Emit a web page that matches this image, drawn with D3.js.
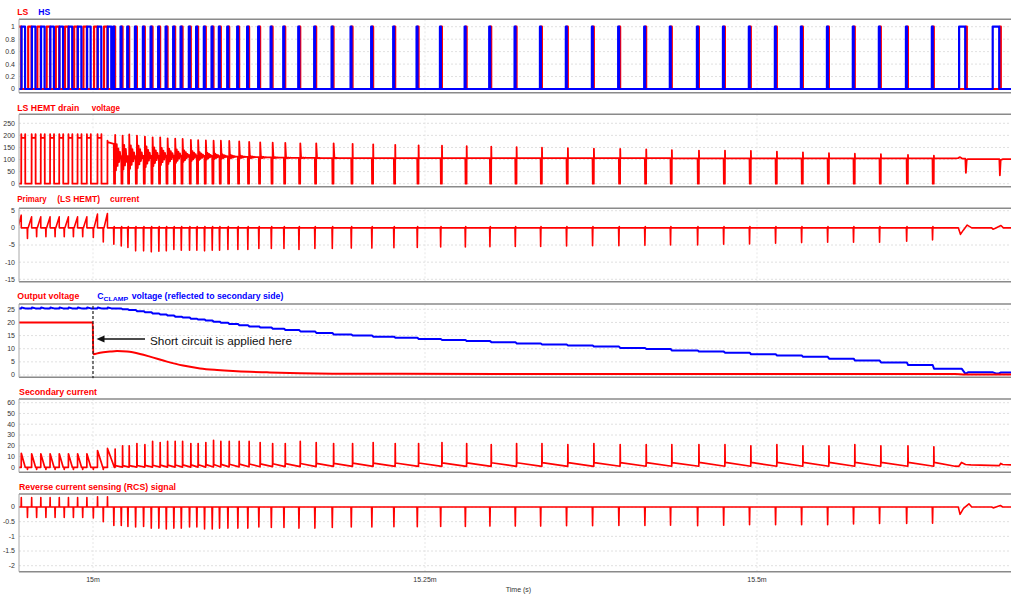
<!DOCTYPE html>
<html>
<head>
<meta charset="utf-8">
<script src="https://cdn.jsdelivr.net/npm/d3@7"></script>
<style>
  body { margin: 0; background: #fff; }
  text { font-family: "Liberation Sans", Arial, Helvetica, sans-serif; }
</style>
</head>
<body>
<svg id="chart" width="1012" height="594"></svg>
<script>
// ---------------------------------------------------------------
// Active-clamp flyback: short circuit applied to the output at 15 ms.
// All event times are in microseconds after t = 15.000 ms.
// ---------------------------------------------------------------

// visible time window (µs after 15 ms)
const windowUs = [-55.72, 691.27];

// x-axis ticks (ms)
const timeTicks = [15, 15.25, 15.5];

// y-axis ticks of each trace
const gateTicks = [0, 0.2, 0.4, 0.6, 0.8, 1];
const drainTicks = [0, 50, 100, 150, 200, 250];
const primaryTicks = [5, 0, -5, -10, -15];
const voutTicks = [0, 5, 10, 15, 20, 25];
const secondaryTicks = [0, 10, 20, 30, 40, 50, 60];
const rcsTicks = [0, -0.5, -1, -1.5, -2];

// --- continuous-mode switching cycles (LS turn-on instants) ---
const ccmStartUs = [-56.6, -48.8, -41.9, -34.9, -28.0, -21.1, -14.2, -7.2, 0.8, 8.3];
const ccmPrimPeak = [3.7, 3.2, 3.2, 3.2, 3.2, 3.2, 3.2, 3.2, 4.0, 4.2];
const ccmPrimDip = [0, -3.1, -2.6, -2.6, -2.6, -2.6, -2.6, -2.6, -2.8, -4.1];
const ccmDrainOver = [205, 205, 205, 205, 205, 205, 205, 205, 205, 178];
const ccmDrainHigh = [190, 190, 190, 190, 190, 190, 190, 190, 190, 172];
const ccmDrainEnd = [190, 190, 190, 190, 190, 190, 190, 190, 190, 165];
const ccmSecPeak = [13, 12.5, 12.5, 12.5, 12.5, 12.5, 12.5, 12.5, 15.5, 17.5];
const ccmSecFallUs = [3.0, 3.0, 3.0, 3.0, 3.0, 3.0, 3.0, 3.0, 4.0, 5.2];
const ccmSecDip = [0, -2, -2, -2, -2, -2, -2, -2, -2, -2];
const ccmRcsPos = [0.32, 0.32, 0.32, 0.32, 0.32, 0.32, 0.32, 0.32, 0.35, 0.35];
const ccmRcsNeg = [0, -0.36, -0.36, -0.36, -0.36, -0.36, -0.36, -0.36, -0.37, -0.5];
const clampRipple = [25.35, 25.7];

// switching timings (µs)
const lsOnUs = 2.56, hsStartUs = 2.79, hsEndUs = 5.45, drainHighUs = 3.0;

// --- burst pulses after the short (LS turn-on instants) ---
const pulseUs = [16.0, 21.6, 26.6, 32.4, 38.4, 44.2, 49.9, 55.5, 61.2, 66.8, 73.0, 78.5,
  84.3, 90.1, 95.6, 101.9, 109.4, 116.9, 125.2, 134.6, 144.1, 155.4, 167.4, 180.5,
  194.8, 210.3, 226.9, 244.5, 262.1, 280.7, 299.2, 318.3, 337.4, 356.9, 376.5, 396.3,
  415.9, 435.2, 455.6, 475.2, 494.7, 514.3, 533.9, 553.5, 573.0, 592.6, 613.0, 632.5];
const drainPeak = [202, 199, 204, 199, 195, 192, 192, 188, 186, 185, 181, 180,
  179, 178, 178, 177, 175, 173, 171, 170, 169, 167, 167, 167,
  165, 163, 161, 159, 157, 155, 153, 151, 149, 147, 145, 144,
  142, 139, 137, 137, 136, 133, 130, 126, 124, 122, 119, 116];
const drainLevel = [114, 114, 114, 115, 115, 115, 116, 116, 116, 116, 116, 115,
  115, 114, 113, 112, 111, 110, 109, 108, 107, 107, 106, 106,
  106, 106, 106, 106, 106, 106, 106, 106, 106, 106, 106, 106,
  106, 105, 105, 105, 105, 105, 105, 105, 105, 105, 105, 105];
const ringAmp = [58, 55, 52, 50, 46, 42, 38, 34, 30, 26, 22, 18,
  15, 12, 10, 8, 6, 5, 4, 3, 2, 2, 1, 1,
  0, 0, 0, 0, 0, 0, 0, 0, 0, 0, 0, 0,
  0, 0, 0, 0, 0, 0, 0, 0, 0, 0, 0, 0];
const ringShape = [-1, 0.85, -0.7, 0.55, -0.42, 0.3, -0.2, 0.12];
const ringStepUs = 0.6;
const primDip = [-4.8, -5.3, -5.7, -6.7, -6.7, -7.0, -6.8, -6.7, -6.3, -6.5, -6.5, -6.5,
  -6.7, -6.5, -6.5, -6.3, -6.3, -6.3, -6.0, -6.0, -6.0, -6.3, -6.0, -6.0,
  -5.9, -5.9, -5.8, -5.7, -5.6, -5.6, -5.5, -5.4, -5.4, -5.3, -5.2, -5.2,
  -5.1, -5.0, -5.0, -4.8, -4.7, -4.5, -4.3, -4.2, -4.2, -4.2, -3.9, -3.5];
const primHook = 0.4;
const secPeak = [17, 20, 20, 22, 21, 24, 23, 24, 24, 24, 22, 22,
  23, 25, 24, 24, 24, 24, 23, 22, 22, 24, 23, 22,
  22, 23, 22, 22, 23, 22, 21, 22, 22, 21, 22, 21,
  21, 21, 21, 21, 20, 21, 20, 20, 21, 20, 20, 19];
const secAfter = [1.5, 1.6, 1.6, 1.7, 1.8, 1.9, 2.0, 2.0, 2.1, 2.2, 2.3, 2.4,
  2.5, 2.6, 2.7, 2.8, 3.0, 3.1, 3.2, 3.3, 3.4, 3.5, 3.6, 3.7,
  3.8, 3.9, 4.0, 4.0, 4.1, 4.1, 4.2, 4.2, 4.3, 4.3, 4.3, 4.4,
  4.4, 4.4, 4.5, 4.5, 4.5, 4.5, 4.5, 4.5, 4.5, 4.5, 4.5, 4.5];
const secEnd = [0.2, 0.2, 0.2, 0.2, 0.2, 0.2, 0.2, 0.2, 0.2, 0.2, 0.2, 0.2,
  0.3, 0.3, 0.4, 0.4, 0.5, 0.5, 0.6, 0.6, 0.7, 0.7, 0.8, 0.8,
  0.9, 0.9, 0.9, 0.9, 0.9, 0.9, 0.9, 0.9, 0.9, 0.9, 1.0, 1.0,
  1.0, 1.0, 1.0, 1.0, 1.0, 1.0, 1.0, 1.0, 1.0, 1.0, 1.0, 1.0];
const rcsDip = [-0.63, -0.63, -0.66, -0.68, -0.66, -0.72, -0.72, -0.75, -0.72, -0.72, -0.68, -0.68,
  -0.75, -0.75, -0.72, -0.72, -0.72, -0.72, -0.68, -0.70, -0.70, -0.72, -0.72, -0.70,
  -0.68, -0.68, -0.67, -0.67, -0.66, -0.66, -0.65, -0.65, -0.65, -0.64, -0.64, -0.63,
  -0.63, -0.62, -0.64, -0.62, -0.60, -0.60, -0.60, -0.60, -0.58, -0.56, -0.56, -0.55];
const clampAfter = [25.3, 25.0, 24.7, 24.3, 23.9, 23.4, 23.0, 22.6, 22.2, 21.9, 21.4, 21.1,
  20.7, 20.3, 19.9, 19.4, 18.9, 18.5, 18.1, 17.6, 17.1, 16.6, 16.0, 15.4,
  15.0, 14.6, 14.2, 13.7, 13.3, 12.9, 12.5, 12.0, 11.6, 11.2, 10.8, 10.3,
  9.9, 9.3, 8.9, 8.5, 7.9, 7.4, 6.9, 6.2, 5.5, 4.8, 3.8, 2.4];

// --- last two events (long HS conduction, then LS) ---
const endPulseUs = [657.4, 683.0];
const endHsOnUs = [5.2, 5.5];
const drainTail = [[649.1, 105], [651.4, 106], [652.9, 110], [654.4, 104], [656.9, 104], [657.3, 45],
  [657.9, 98], [658.9, 102], [682.5, 102], [682.9, 35], [683.5, 98], [685.2, 102], [691.3, 102]];
const primTail = [[649.1, 0], [651.6, 0], [653.2, -1.9], [655.5, -0.6], [658.3, 0.8], [661.7, 0],
  [676.7, 0], [677.7, -0.4], [679.5, -0.1], [683.7, 0.7], [685.5, 0], [691.3, 0]];
const secTail = [[649.1, 1.0], [652.0, 0.9], [654.0, 4.5], [657.0, 2.6], [661.0, 2.2],
  [682.5, 1.6], [683.5, 3.6], [685.0, 2.6], [691.3, 2.3]];
const rcsTail = [[649.1, 0], [651.6, 0], [652.9, -0.25], [655.5, -0.05], [659.6, 0.11], [661.7, 0],
  [676.7, 0], [677.9, -0.03], [680.0, 0], [683.3, 0.05], [685.0, 0], [691.3, 0]];
const clampTail = [[649.1, 2.4], [654.1, 2.4], [657.0, 0.4], [658.9, 1.0], [677.7, 1.0],
  [679.9, 0.6], [682.2, 0.6], [683.7, 0.95], [691.3, 0.95]];

// --- output voltage ---
const voutUs = [-55.7, -0.15, 0.15, 5.3, 12.8, 18.1, 25.6, 35.4, 42.9, 55.7, 67.8, 80.6,
  93.4, 105.4, 118.2, 131.0, 155.9, 180.7, 231.2, 381.8, 649.1, 656.6, 691.3];
const voutV = [20, 20, 7.9, 8.5, 8.9, 9.1, 8.9, 8.0, 7.0, 5.1, 3.6, 2.5,
  1.9, 1.5, 1.2, 1.0, 0.65, 0.5, 0.45, 0.4, 0.4, 0.2, 0.15];

// ---------------------------------------------------------------
const RED = "#ff0000", BLUE = "#0000ff";
const svg = d3.select("#chart");
const plotLeft = 19, plotRight = 1011;

const x = d3.scaleLinear()
  .domain([15 + windowUs[0] / 1000, 15 + windowUs[1] / 1000])
  .range([plotLeft, plotRight]);
const tx = us => x(15 + us / 1000);
const lastCcm = ccmStartUs.length - 1;

// ---------- waveform builders (point lists in [µs, value]) ----------
function gateLS() {
  const p = [[ccmStartUs[0] - 1, 0]];
  ccmStartUs.forEach(c => p.push([c, 0], [c, 1], [c + lsOnUs, 1], [c + lsOnUs, 0]));
  pulseUs.forEach(t => p.push([t, 0], [t, 1], [t + 0.65, 1], [t + 0.65, 0]));
  endPulseUs.forEach(t => p.push([t, 0], [t, 1], [t + 0.6, 1], [t + 0.6, 0]));
  p.push([windowUs[1] + 1, 0]);
  return p;
}
function gateHS() {
  const p = [[ccmStartUs[0] - 1, 0]];
  ccmStartUs.forEach(c => p.push([c + hsStartUs, 0], [c + hsStartUs, 1], [c + hsEndUs, 1], [c + hsEndUs, 0]));
  pulseUs.forEach(t => p.push([t - 0.85, 0], [t - 0.85, 1], [t - 0.15, 1], [t - 0.15, 0]));
  endPulseUs.forEach((t, i) => p.push([t - endHsOnUs[i], 0], [t - endHsOnUs[i], 1], [t - 0.6, 1], [t - 0.6, 0]));
  p.push([windowUs[1] + 1, 0]);
  return p;
}
function drainWave() {
  const p = [[ccmStartUs[0] - 1, 0]];
  ccmStartUs.forEach((c, i) => {
    const r = c + lsOnUs;
    p.push([r, 0], [r + 0.05, ccmDrainOver[i]], [r + 0.2, ccmDrainHigh[i]]);
    if (i < lastCcm) {
      const f = r + drainHighUs;
      p.push([f - 0.15, ccmDrainEnd[i]], [f, ccmDrainOver[i]], [f + 0.05, 0]);
    } else {
      p.push([pulseUs[0] - 0.35, ccmDrainEnd[i]]);
    }
  });
  pulseUs.forEach((t, i) => {
    const next = i < pulseUs.length - 1 ? pulseUs[i + 1] : drainTail[0][0];
    if (i > 0) p.push([t - 0.35, drainLevel[i - 1]]);
    p.push([t - 0.15, 0], [t + 0.6, 0], [t + 0.7, drainPeak[i]]);
    let last = t + 0.7;
    if (ringAmp[i] > 0) {
      let s = t + 0.7;
      ringShape.forEach(k => {
        s += ringStepUs;
        if (s < next - 0.7) { p.push([s, drainLevel[i] + ringAmp[i] * k]); last = s; }
      });
      p.push([last + 0.3, drainLevel[i]]);
    } else {
      p.push([t + 0.85, drainLevel[i]]);
    }
  });
  drainTail.forEach(d => p.push(d));
  return p;
}
function primaryWave() {
  const p = [];
  ccmStartUs.forEach((c, i) => {
    if (ccmPrimDip[i]) p.push([c - 0.75, 0], [c - 0.55, ccmPrimDip[i]], [c - 0.35, 0]);
    p.push([c, 0], [c + lsOnUs, ccmPrimPeak[i]], [c + lsOnUs + 0.05, 0]);
  });
  pulseUs.forEach((t, i) => p.push([t - 0.55, 0], [t - 0.3, primDip[i]], [t - 0.05, primHook], [t + 0.25, 0]));
  primTail.forEach(d => p.push(d));
  return p;
}
function secondaryWave() {
  const p = [[ccmStartUs[0] - 1, 0]];
  ccmStartUs.forEach((c, i) => {
    if (ccmSecDip[i]) p.push([c - 0.75, 0], [c - 0.55, ccmSecDip[i]], [c - 0.35, 0]);
    const r = c + lsOnUs;
    p.push([r, 0], [r + 0.05, ccmSecPeak[i]], [r + ccmSecFallUs[i], 0]);
  });
  pulseUs.forEach((t, i) => {
    const r = t + 0.6;
    p.push([r, i ? secEnd[i - 1] : 0], [r + 0.08, secPeak[i]], [r + 0.25, secAfter[i]]);
  });
  secTail.forEach(d => p.push(d));
  return p;
}
function rcsWave() {
  const p = [[ccmStartUs[0] - 1, 0]];
  ccmStartUs.forEach((c, i) => {
    if (ccmRcsNeg[i]) p.push([c - 0.75, 0], [c - 0.55, ccmRcsNeg[i]], [c - 0.35, 0]);
    const r = c + lsOnUs;
    p.push([r - 0.1, 0], [r + 0.05, ccmRcsPos[i]], [r + 0.2, 0]);
  });
  pulseUs.forEach((t, i) => p.push([t - 0.55, 0], [t - 0.3, rcsDip[i]], [t - 0.05, 0]));
  rcsTail.forEach(d => p.push(d));
  return p;
}
function clampWave() {
  const p = [[ccmStartUs[0] - 1, clampRipple[0]]];
  ccmStartUs.forEach(c => {
    const r = c + lsOnUs;
    p.push([r, clampRipple[0]], [r + 0.3, clampRipple[1]], [r + 3.0, clampRipple[0]]);
  });
  pulseUs.forEach((t, i) => p.push([t - 0.2, i ? clampAfter[i - 1] : clampRipple[0]], [t + 0.8, clampAfter[i]]));
  clampTail.forEach(d => p.push(d));
  return p;
}
const voutPts = voutUs.map((t, i) => [t, voutV[i]]);

// ---------- panels ----------
const panels = [
  { id: "gate", top: 19.3, bottom: 92.7, dom: [0, 1], rng: [89, 26.7], ticks: gateTicks,
    traces: [{ pts: gateLS(), color: RED, w: 2.2 }, { pts: gateHS(), color: BLUE, w: 2.2 }] },
  { id: "drain", top: 114.3, bottom: 186.7, dom: [0, 250], rng: [183.7, 123.3], ticks: drainTicks,
    traces: [{ pts: drainWave(), color: RED, w: 1.8 }] },
  { id: "prim", top: 208.3, bottom: 281.7, dom: [-15, 5], rng: [279.3, 210.7], ticks: primaryTicks,
    traces: [{ pts: primaryWave(), color: RED, w: 1.6 }] },
  { id: "vout", top: 304, bottom: 377.3, dom: [0, 25], rng: [375, 309.3], ticks: voutTicks,
    traces: [{ pts: clampWave(), color: BLUE, w: 2 }, { pts: voutPts, color: RED, w: 2, curve: d3.curveMonotoneX }] },
  { id: "sec", top: 399, bottom: 472.3, dom: [0, 60], rng: [467.3, 402.7], ticks: secondaryTicks,
    traces: [{ pts: secondaryWave(), color: RED, w: 1.7 }] },
  { id: "rcs", top: 494, bottom: 571.7, dom: [-2, 0], rng: [565.7, 507], ticks: rcsTicks,
    traces: [{ pts: rcsWave(), color: RED, w: 1.6 }] }
];

const defs = svg.append("defs");
panels.forEach(pn => {
  const y = d3.scaleLinear().domain(pn.dom).range(pn.rng);
  const g = svg.append("g").attr("class", "panel-" + pn.id);

  // grid
  g.selectAll("line.hgrid").data(pn.ticks).join("line").attr("class", "hgrid")
    .attr("x1", plotLeft).attr("x2", plotRight)
    .attr("y1", d => y(d)).attr("y2", d => y(d))
    .attr("stroke", "#d8d8d8").attr("stroke-width", 0.8).attr("stroke-dasharray", "2,2");
  g.selectAll("line.vgrid").data(timeTicks).join("line").attr("class", "vgrid")
    .attr("x1", d => x(d)).attr("x2", d => x(d))
    .attr("y1", pn.top).attr("y2", pn.bottom)
    .attr("stroke", "#e2e2e2").attr("stroke-width", 0.8).attr("stroke-dasharray", "2,2");

  // tick labels
  g.selectAll("text.ytick").data(pn.ticks).join("text").attr("class", "ytick")
    .attr("x", 15).attr("y", d => y(d)).attr("dy", "0.35em")
    .attr("text-anchor", "end").attr("font-size", 7).attr("fill", "#333")
    .text(d => String(d));

  // traces
  defs.append("clipPath").attr("id", "clip-" + pn.id)
    .append("rect").attr("x", plotLeft).attr("y", pn.top)
    .attr("width", plotRight - plotLeft).attr("height", pn.bottom - pn.top);
  const body = g.append("g").attr("clip-path", `url(#clip-${pn.id})`);
  pn.traces.forEach(tr => {
    const line = d3.line().x(d => tx(d[0])).y(d => y(d[1]));
    if (tr.curve) line.curve(tr.curve);
    body.append("path").attr("d", line(tr.pts))
      .attr("fill", "none").attr("stroke", tr.color)
      .attr("stroke-width", tr.w).attr("stroke-linejoin", "round");
  });

  // frame
  g.append("line").attr("x1", plotLeft).attr("x2", plotRight).attr("y1", pn.top).attr("y2", pn.top)
    .attr("stroke", "#8a8a8a").attr("stroke-width", 1.4);
  g.append("line").attr("x1", plotLeft).attr("x2", plotRight).attr("y1", pn.bottom).attr("y2", pn.bottom)
    .attr("stroke", "#8a8a8a").attr("stroke-width", 1.4);
  g.append("line").attr("x1", plotLeft).attr("x2", plotLeft).attr("y1", pn.top).attr("y2", pn.bottom)
    .attr("stroke", "#a8a8a8").attr("stroke-width", 1);
});

// ---------- titles ----------
const titles = [
  { t: "LS", x: 17.3, y: 15, w: 11, c: RED },
  { t: "HS", x: 38.3, y: 15, w: 12, c: BLUE },
  { t: "LS HEMT drain", x: 17.3, y: 110.7, w: 62, c: RED },
  { t: "voltage", x: 91.7, y: 110.7, w: 28.3, c: RED },
  { t: "Primary", x: 17.3, y: 202.2, w: 29.4, c: RED },
  { t: "(LS HEMT)", x: 57.3, y: 202.2, w: 42.7, c: RED },
  { t: "current", x: 110, y: 202.2, w: 29.3, c: RED },
  { t: "Output voltage", x: 17.3, y: 298.8, w: 62, c: RED },
  { t: "C", x: 97.3, y: 298.8, w: 6.3, c: BLUE },
  { t: "voltage (reflected to secondary side)", x: 131.7, y: 298.8, w: 151.6, c: BLUE },
  { t: "Secondary current", x: 19, y: 394.8, w: 78, c: RED },
  { t: "Reverse current sensing (RCS) signal", x: 19, y: 489.8, w: 157, c: RED }
];
svg.selectAll("text.title").data(titles).join("text").attr("class", "title")
  .attr("x", d => d.x).attr("y", d => d.y)
  .attr("font-size", 9).attr("font-weight", "bold").attr("fill", d => d.c)
  .attr("textLength", d => d.w).attr("lengthAdjust", "spacingAndGlyphs")
  .text(d => d.t);
svg.append("text").attr("x", 103.6).attr("y", 300.6)
  .attr("font-size", 6.2).attr("font-weight", "bold").attr("fill", BLUE)
  .attr("textLength", 24.5).attr("lengthAdjust", "spacingAndGlyphs").text("CLAMP");

// ---------- annotation: short-circuit instant ----------
const vPanel = panels[3];
svg.append("line").attr("x1", tx(0)).attr("x2", tx(0))
  .attr("y1", vPanel.top + 2).attr("y2", vPanel.bottom + 1)
  .attr("stroke", "#222").attr("stroke-width", 1.2).attr("stroke-dasharray", "3,2");
svg.append("line").attr("x1", 145).attr("x2", 103).attr("y1", 339).attr("y2", 339)
  .attr("stroke", "#111").attr("stroke-width", 1.3);
svg.append("path").attr("d", "M96.5,339 L104.5,335.6 L104.5,342.4 Z").attr("fill", "#111");
svg.append("text").attr("x", 150).attr("y", 345)
  .attr("font-size", 11.8).attr("fill", "#111")
  .attr("textLength", 142).attr("lengthAdjust", "spacingAndGlyphs")
  .text("Short circuit is applied here");

// ---------- time axis ----------
svg.selectAll("text.xtick").data(timeTicks).join("text").attr("class", "xtick")
  .attr("x", d => x(d)).attr("y", 582)
  .attr("text-anchor", "middle").attr("font-size", 7).attr("fill", "#333")
  .text(d => d3.format("~g")(d) + "m");
svg.append("text").attr("x", 518.5).attr("y", 592)
  .attr("text-anchor", "middle").attr("font-size", 7).attr("fill", "#333")
  .text("Time (s)");
</script>
</body>
</html>
